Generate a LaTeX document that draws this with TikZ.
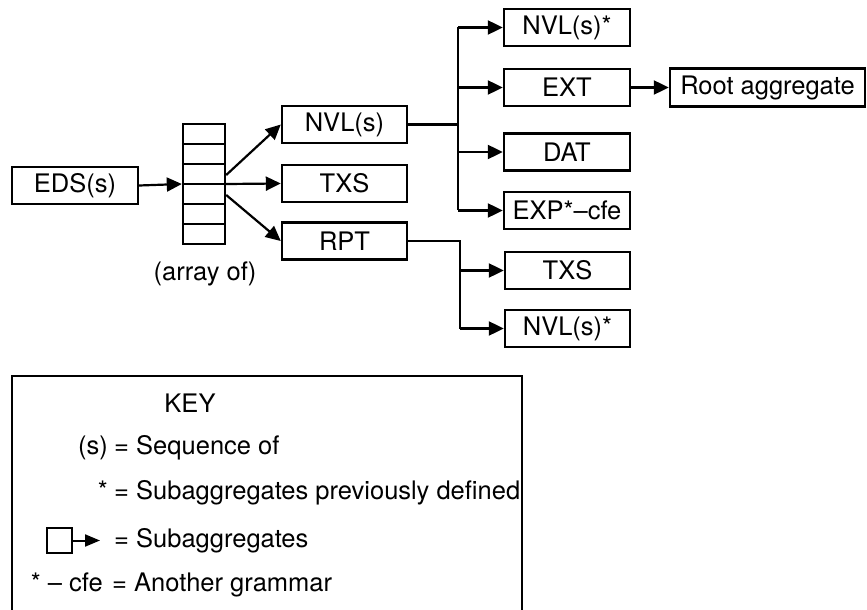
\documentclass[tikz,border=0pt]{standalone}
\usepackage{fontspec}
\setmainfont{TeX Gyre Heros}
\usetikzlibrary{arrows.meta}
\begin{document}
\begin{tikzpicture}[x=1bp,y=-1bp,
  every node/.style={font=\fontsize{25.5bp}{30bp}\selectfont},
  box/.style={draw,line width=2.4bp,inner sep=0pt,minimum width=125bp,minimum height=37bp},
  conn/.style={line width=2.2bp},
  arrowline/.style={conn,-{Triangle[length=15bp,width=14bp]}},
  legendarrow/.style={line width=2bp,-{Triangle[length=15bp,width=12bp]}},
  plain/.style={inner sep=0pt}]
\useasboundingbox (0,0) rectangle (867,610);

% main boxes
\node[box,minimum width=126bp] (eds) at (75,185.5) {EDS(s)};
\node[draw,line width=2.4bp,inner sep=0pt,minimum width=42bp,minimum height=120bp] (array) at (204,184) {};
\foreach \yy in {144,164,184,204,224}
  \draw[line width=2bp] (array.west |- 0,\yy) -- (array.east |- 0,\yy);
\node[plain] (arraylabel) at (205,274) {(array of)};

\node[box] (nvl) at (344.5,124.5) {NVL(s)};
\node[box] (txsa) at (344.5,183.5) {TXS};
\node[box] (rpt) at (344.5,241) {RPT};

\node[box,minimum width=126bp] (nvlb) at (567,27.5) {NVL(s)*};
\node[box,minimum width=126bp] (ext) at (567,87.5) {EXT};
\node[box,minimum width=126bp] (dat) at (567,152) {DAT};
\node[box,minimum width=126bp] (exp) at (567,210.5) {EXP*–cfe};
\node[box,minimum width=195bp,minimum height=38bp] (root) at (767.5,87.5) {Root aggregate};

\node[box] (txsb) at (567.5,270.5) {TXS};
\node[box] (nvlc) at (567.5,328.5) {NVL(s)*};

% connectors
\draw[arrowline] (eds.east) -- (array.west);
\draw[arrowline] ([yshift=9bp]array.east) -- (nvl.west);
\draw[arrowline] (array.east) -- (txsa.west);
\draw[arrowline] ([yshift=-11bp]array.east) -- (rpt.west);

\coordinate (busa) at (458,0);
\draw[conn] (nvl.east) -- (nvl.east -| busa);
\draw[conn] (nvlb.west -| busa) -- (exp.west -| busa);
\foreach \n in {nvlb,ext,dat,exp}
  \draw[arrowline] (\n.west -| busa) -- (\n.west);
\draw[arrowline] (ext.east) -- (root.west);

\coordinate (busb) at (460,0);
\draw[conn] (rpt.east) -- (rpt.east -| busb) -- (nvlc.west -| busb);
\draw[arrowline] (txsb.west -| busb) -- (txsb.west);
\draw[arrowline] (nvlc.west -| busb) -- (nvlc.west);

% key
\draw[line width=2.4bp] (12,615) -- (12,376) -- (522,376) -- (522,615);
\node[plain] (keyt) at (190,403) {KEY};
\node[plain,anchor=base east] (k1l) at (108,454) {(s)};
\node[plain,anchor=base west] (k1r) at (114,454) {= Sequence of};
\node[plain,anchor=base east] (k2l) at (108,499) {*};
\node[plain,anchor=base west] (k2r) at (114,499) {= Subaggregates previously defined};
\node[draw,line width=2bp,inner sep=0pt,minimum size=25bp] (lsq) at (59.5,540.5) {};
\coordinate (ltip) at (100,540.5);
\draw[legendarrow] (lsq.east) -- (ltip);
\node[plain,anchor=base west] (k3r) at (114,547) {= Subaggregates};
\node[plain,anchor=base east] (k4l) at (103,591) {* – cfe};
\node[plain,anchor=base west] (k4r) at (112,591) {= Another grammar};
\end{tikzpicture}
\end{document}
